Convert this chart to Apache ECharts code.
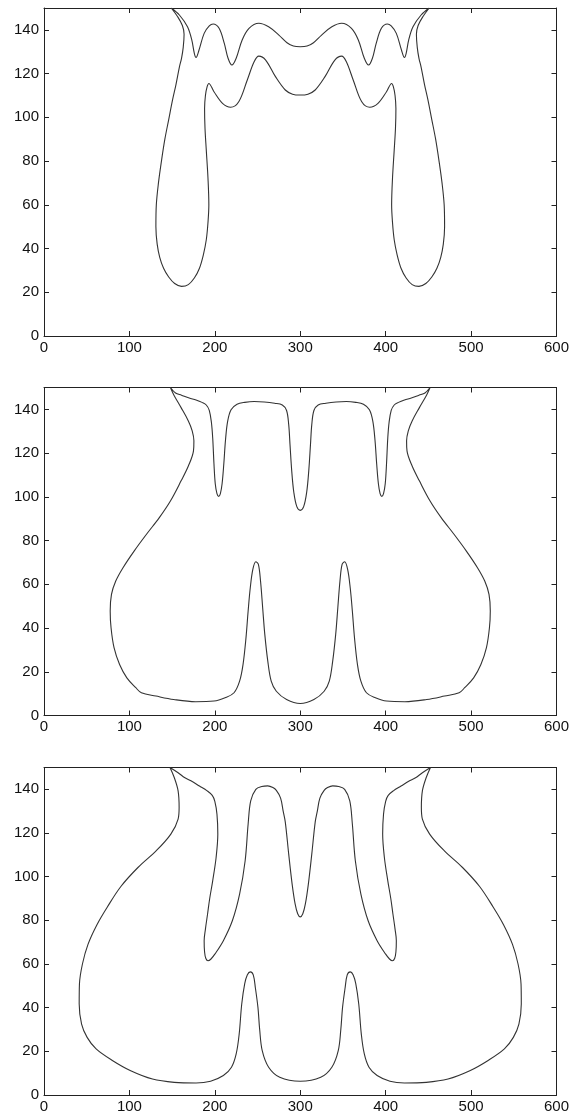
<!DOCTYPE html>
<html>
<head>
<meta charset="utf-8">
<script src="https://cdn.jsdelivr.net/npm/echarts@6/dist/echarts.min.js"></script>
<style>
  html, body { margin: 0; padding: 0; background: #fff; }
  #chart { width: 572px; height: 1114px; }
</style>
</head>
<body>
<div id="chart"></div>
<script>
// axis ranges / ticks
const xRange = [0, 600];
const xStep = 100;
const yRange = [0, 150];
const yStep = 20;

// contour of panel 1, traced as [x, y] points (clockwise from top-left)
const panel1 = [
  [149, 150], [158.5, 146.8], [168, 141.4], [173, 135.4], [176, 129.3], [178, 127.4], [181.5, 130.8],
  [187.5, 138.4], [193.5, 141.8], [198, 142.7], [205, 140.7], [211, 133.9], [215.5, 127], [220, 123.9],
  [225, 127], [232, 135.4], [240, 140.7], [251.5, 143], [263, 141.4], [275, 137.6], [284.5, 134.1],
  [292, 132.6], [300, 132.3], [308, 132.6],
  [315.5, 134.1], [325, 137.6], [337, 141.4], [348.5, 143], [360, 140.7], [368, 135.4], [375, 127], [380, 123.9],
  [384.5, 127], [389, 133.9], [395, 140.7], [402, 142.7], [406.5, 141.8], [412.5, 138.4], [418.5, 130.8],
  [422, 127.4], [424, 129.3], [427, 135.4], [432, 141.4], [441.5, 146.8], [451, 150],
  [443.5, 146], [438, 142], [436, 138], [437, 132], [439, 127], [441.5, 123], [445.5, 115], [449.5, 108],
  [454, 99], [458.5, 90], [462.5, 80], [466, 70], [468.5, 60], [469, 50], [467.5, 42], [464.5, 36], [460, 31],
  [454, 27], [447, 24], [439, 22.7], [431, 23.5], [424, 26.5], [418, 31], [413.5, 37], [410, 44], [408, 52],
  [407, 60], [408, 72], [410, 85], [411.5, 95], [412, 104], [411, 110], [409, 114], [407, 115.5],
  [401, 111.7], [391, 106.4], [381.5, 104.6], [372, 107.1], [362, 117.1], [354, 125.4], [348.5, 128],
  [340.5, 126.2], [329, 118.6], [317.5, 112.5], [309, 110.6], [300, 110.2], [291, 110.6], [282.5, 112.5],
  [271, 118.6], [259.5, 126.2],
  [251.5, 128], [246, 125.4], [238, 117.1], [228, 107.1], [218.5, 104.6], [209, 106.4], [199, 111.7], [193, 115.5],
  [191, 114], [189, 110], [188, 104], [188.5, 95], [190, 85], [192, 72], [193, 60], [192, 52], [190, 44],
  [186.5, 37], [182, 31], [176, 26.5], [169, 23.5], [161, 22.7], [153, 24], [146, 27], [140, 31], [135.5, 36],
  [132.5, 42], [131, 50], [131.5, 60], [134, 70], [137.5, 80], [141.5, 90], [146, 99], [150.5, 108], [154.5, 115],
  [158.5, 123], [161, 127], [163, 132], [164, 138], [162, 142], [156.5, 146], [149, 150]
];

// contour of panel 2
const panel2 = [
  [148, 150], [154, 147.5], [161, 146.5], [170, 145.2], [178, 144.3], [185, 143.2], [190, 142], [193.5, 139.5],
  [196, 134], [197.5, 127], [199, 115], [200.5, 106], [202.5, 101.5], [204.5, 100.2], [206.5, 101.5],
  [208.5, 106], [210.5, 115], [212.5, 126], [215, 134.5], [219, 139.8], [226, 142.3], [235, 143.2],
  [246, 143.6], [258, 143.4], [270, 142.8], [279, 142], [284, 139.5], [286.5, 133], [288, 124], [290, 112],
  [292.5, 102], [296, 95.5], [300, 93.8], [304, 95.5], [307.5, 102], [310, 112], [312, 124], [313.5, 133],
  [316, 139.5], [321, 142], [330, 142.8], [342, 143.4], [354, 143.6], [365, 143.2], [374, 142.3], [381, 139.8],
  [385, 134.5], [387.5, 126], [389.5, 115], [391.5, 106], [393.5, 101.5], [395.5, 100.2], [397.5, 101.5],
  [399.5, 106], [401, 115], [402.5, 127], [404, 134], [406.5, 139.5], [410, 142], [415, 143.2], [422, 144.3],
  [430, 145.2], [439, 146.5], [446, 147.5], [452, 150],
  [448, 146.6], [439.5, 140.8], [431, 134.7], [426.5, 130.2], [424.5, 125.6], [425, 121], [431, 114.1],
  [439.5, 107.3], [452, 98.1], [465, 90.5], [480, 82.9], [494.5, 75.2], [507.5, 67.6], [516, 61.5], [521, 55.4],
  [522.5, 47.8], [521.5, 40.1], [518, 31], [511.5, 23.3], [503, 17.2], [492.5, 12.7], [486, 10.4], [469, 8.9],
  [448, 7.3], [422.5, 6.3], [401, 6.6], [388, 8.1], [377.5, 10.4], [371, 15.7], [367, 23.3], [363.5, 35.6],
  [361, 47.8], [358.5, 58.4], [355.5, 66.8], [352, 70.3], [349, 69.1], [346.5, 61.5], [344, 49.3],
  [341.5, 37.1], [338, 24.9], [334, 15.7], [328, 11.1], [316, 7.3], [300, 5.5], [284, 7.3], [272, 11.1],
  [266, 15.7], [262, 24.9], [258.5, 37.1], [256, 49.3], [253.5, 61.5], [251, 69.1], [248, 70.3], [244.5, 66.8],
  [241.5, 58.4], [239, 47.8], [236.5, 35.6], [233, 23.3], [229, 15.7], [222.5, 10.4], [212, 8.1], [199, 6.6],
  [177.5, 6.3], [152, 7.3], [131, 8.9], [114, 10.4], [107.5, 12.7], [97, 17.2], [88.5, 23.3], [82, 31],
  [78.5, 40.1], [77.5, 47.8], [79, 55.4], [84, 61.5], [92.5, 67.6], [105.5, 75.2], [120, 82.9], [135, 90.5],
  [148, 98.1], [160.5, 107.3], [169, 114.1], [175, 121], [175.5, 125.6], [173.5, 130.2], [169, 134.7],
  [160.5, 140.8], [152, 146.6], [148, 150]
];

// contour of panel 3
const panel3 = [
  [147.5, 150], [157, 147.6], [165, 145.3], [172, 143.9], [182, 141.5], [191, 139.3], [197, 137.2], [200, 134.5],
  [202.5, 128.6], [203.5, 119.5], [201.5, 108.8], [197.5, 98.1], [194, 90], [191.5, 82.9], [189, 76],
  [187.5, 70.7], [188, 65.5], [189.5, 62.5], [192, 61.5], [195.5, 62.3], [200, 64.5], [210, 70.7], [220.5, 79.8],
  [229, 92], [235.5, 107.3], [239, 124.1], [242, 134.7], [248, 140], [255, 141.3], [262, 141.6], [268, 140.8],
  [272, 139.5], [277, 136], [280, 130], [282.5, 125], [286.5, 110.3], [290.5, 96.6], [294, 87.5], [297, 83],
  [300, 81.6], [303, 83], [306, 87.5], [309.5, 96.6], [313.5, 110.3], [317.5, 125], [320, 130], [323, 136],
  [328, 139.5], [332, 140.8], [338, 141.6], [345, 141.3], [352, 140], [358, 134.7], [361, 124.1], [364.5, 107.3],
  [371, 92], [379.5, 79.8], [390, 70.7], [400, 64.5], [404.5, 62.3], [408, 61.5], [410.5, 62.5], [412, 65.5],
  [412.5, 70.7], [411, 76], [408.5, 82.9], [406, 90], [402.5, 98.1], [398.5, 108.8], [396.5, 119.5],
  [397.5, 128.6], [400, 134.5], [403, 137.2], [409, 139.3], [418, 141.5], [428, 143.9], [435, 145.3],
  [443, 147.6], [452.5, 150],
  [447.5, 145.4], [443, 139.3], [441.8, 131.7], [443, 126.4], [451.5, 119.5], [468.5, 111.9], [490, 104.2],
  [510, 95.5], [526, 86], [538, 78], [548.5, 69], [555, 60], [558.5, 50.8], [558.8, 41.7], [556, 32.5],
  [549.5, 26.4], [539, 21.1], [519.5, 15.7], [498.5, 11.1], [473, 7.3], [447.5, 5.8], [422, 5.5], [405, 6.3],
  [390, 8.9], [380.5, 12.7], [375, 18.8], [371.5, 27.9], [368.5, 41.7], [365, 51], [362, 55], [358.5, 56.4],
  [355, 55], [352.5, 49], [349.5, 40], [347.5, 30], [344.5, 20.3], [337, 12.7], [324, 8.1], [300, 6.3],
  [276, 8.1], [263, 12.7], [255.5, 20.3], [252.5, 30], [250.5, 40], [247.5, 49], [245, 55], [241.5, 56.4],
  [238, 55], [235, 51], [231.5, 41.7], [228.5, 27.9], [225, 18.8], [219.5, 12.7], [210, 8.9], [195, 6.3],
  [178, 5.5], [152.5, 5.8],
  [127, 7.3], [101.5, 11.1], [80.5, 15.7], [61, 21.1], [50.5, 26.4], [44, 32.5], [41.2, 41.7], [41.5, 50.8],
  [45, 60], [51.5, 69], [62, 78], [74, 86], [90, 95.5], [110, 104.2], [131.5, 111.9], [148.5, 119.5],
  [157, 126.4], [158.2, 131.7], [157, 139.3], [152.5, 145.4], [147.5, 150]
];

const panels = [panel1, panel2, panel3];
const gridTops = [8, 387.5, 767.5];

const chart = echarts.init(document.getElementById('chart'));

const axisColor = '#222';
const labelFont = { color: '#111', fontSize: 15, fontFamily: 'Liberation Sans, Arial, sans-serif' };

const grids = [];
const xAxes = [];
const yAxes = [];
const series = [];

panels.forEach((pts, i) => {
  grids.push({ left: 44, right: 13, top: gridTops[i], height: 328 });

  // bottom + top x axes (top one only for the inward ticks)
  ['bottom', 'top'].forEach((pos) => {
    xAxes.push({
      gridIndex: i,
      type: 'value',
      position: pos,
      min: xRange[0],
      max: xRange[1],
      interval: xStep,
      axisLine: { show: true, onZero: false, lineStyle: { color: axisColor, width: 1 } },
      axisTick: { show: true, inside: true, length: 5, lineStyle: { color: axisColor } },
      axisLabel: Object.assign({ show: pos === 'bottom', margin: 4 }, labelFont),
      splitLine: { show: false }
    });
  });

  ['left', 'right'].forEach((pos) => {
    yAxes.push({
      gridIndex: i,
      type: 'value',
      position: pos,
      min: yRange[0],
      max: yRange[1],
      interval: yStep,
      axisLine: { show: true, onZero: false, lineStyle: { color: axisColor, width: 1 } },
      axisTick: { show: true, inside: true, length: 5, lineStyle: { color: axisColor } },
      axisLabel: Object.assign({ show: pos === 'left', margin: 5, showMaxLabel: false }, labelFont),
      splitLine: { show: false }
    });
  });

  series.push({
    type: 'line',
    xAxisIndex: i * 2,
    yAxisIndex: i * 2,
    data: pts,
    smooth: 0.35,
    showSymbol: false,
    symbol: 'none',
    silent: true,
    lineStyle: { color: '#333', width: 1.1 }
  });
});

chart.setOption({
  backgroundColor: '#fff',
  animation: false,
  grid: grids,
  xAxis: xAxes,
  yAxis: yAxes,
  series: series
});
</script>
</body>
</html>
